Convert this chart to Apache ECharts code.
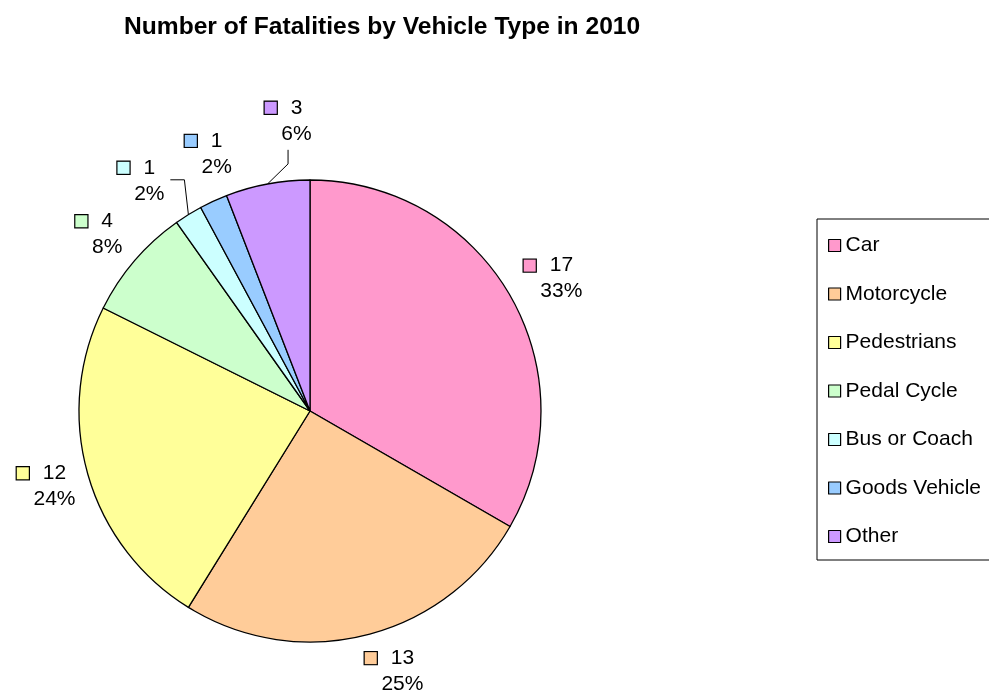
<!DOCTYPE html>
<html>
<head>
<meta charset="utf-8">
<title>Number of Fatalities by Vehicle Type in 2010</title>
<script src="https://cdn.jsdelivr.net/npm/echarts@6/dist/echarts.min.js"></script>
<style>
html,body{margin:0;padding:0;background:#fff}
#main{width:989px;height:693px}
</style>
</head>
<body>
<div id="main"></div>
<script>
var categories = ['Car', 'Motorcycle', 'Pedestrians', 'Pedal Cycle', 'Bus or Coach', 'Goods Vehicle', 'Other'];
var fatalities = [17, 13, 12, 4, 1, 1, 3];
var colors = ['#FF99CC', '#FFCC99', '#FFFF99', '#CCFFCC', '#CCFFFF', '#99CCFF', '#CC99FF'];

var cx = 310, cy = 411, r = 231;
// small label tweaks; the last three were dragged by hand in the original
var nudge = [[-3, 7], [14, 0], [-11, 2], [-13, -3], [-33, -3], [5, -15], [22, -31]];

function midAngle(i) {
    var total = 0, before = 0;
    for (var k = 0; k < fatalities.length; k++) {
        total += fatalities[k];
        if (k < i) before += fatalities[k];
    }
    return (before + fatalities[i] / 2) / total * 2 * Math.PI;
}

var font = 'Liberation Sans, Arial, sans-serif';
var rich = {
    g: {width: 14},
    e: {width: 26},
    v: {fontSize: 21, fontFamily: font, color: '#000', lineHeight: 26},
    p: {fontSize: 21, fontFamily: font, color: '#000', lineHeight: 26}
};
for (var i = 0; i < colors.length; i++) {
    rich['sq' + i] = {width: 12, height: 12, backgroundColor: colors[i], borderColor: '#000', borderWidth: 1.2};
}

var data = [];
for (var i = 0; i < categories.length; i++) {
    var item = {name: categories[i], value: fatalities[i], itemStyle: {color: colors[i]}};
    if (i === 4 || i === 6) {
        item.labelLine = {show: true, lineStyle: {color: '#000', width: 1}};
    }
    data.push(item);
}

var myChart = echarts.init(document.getElementById('main'));
myChart.setOption({
    animation: false,
    title: {
        text: 'Number of Fatalities by Vehicle Type in 2010',
        left: 119,
        top: 10,
        textStyle: {fontFamily: font, fontSize: 24.6, fontWeight: 'bold', color: '#000'}
    },
    legend: {
        orient: 'vertical',
        left: 817,
        top: 219,
        padding: [16, 10, 13, 11],
        borderColor: '#000',
        borderWidth: 1,
        icon: 'rect',
        itemWidth: 12,
        itemHeight: 12,
        itemGap: 27.5,
        itemStyle: {borderColor: '#000', borderWidth: 1.2},
        textStyle: {fontFamily: font, fontSize: 21, color: '#000', lineHeight: 21},
        data: categories
    },
    series: [{
        name: 'Fatalities',
        type: 'pie',
        center: [cx, cy],
        radius: r,
        startAngle: 90,
        clockwise: true,
        avoidLabelOverlap: false,
        percentPrecision: 0,
        itemStyle: {borderColor: '#000', borderWidth: 1.3},
        emphasis: {disabled: true},
        label: {
            position: 'outside',
            formatter: function (p) {
                return '{sq' + p.dataIndex + '|}{g|}{v|' + p.value + '}\n{e|}{p|' + p.percent + '%}';
            },
            rich: rich
        },
        labelLine: {show: false},
        labelLayout: function (params) {
            var i = params.dataIndex;
            var a = midAngle(i);
            var dx = Math.sin(a), dy = -Math.cos(a);
            var w = params.labelRect.width / 2;
            var h = params.labelRect.height / 2;
            var dist = 237 + w * Math.abs(dx) + h * Math.abs(dy);
            var x = cx + dx * dist + nudge[i][0], y = cy + dy * dist + nudge[i][1];
            var res = {x: x, y: y, align: 'center', verticalAlign: 'middle'};
            var ex = cx + dx * r, ey = cy + dy * r;
            if (i === 4) res.labelLinePoints = [[ex, ey], [ex - 4, y - 1], [x + 34, y - 1]];
            if (i === 6) res.labelLinePoints = [[ex, ey], [x + 4.5, ey - 20], [x + 4.5, y + 29]];
            return res;
        },
        data: data
    }]
});
</script>
</body>
</html>
